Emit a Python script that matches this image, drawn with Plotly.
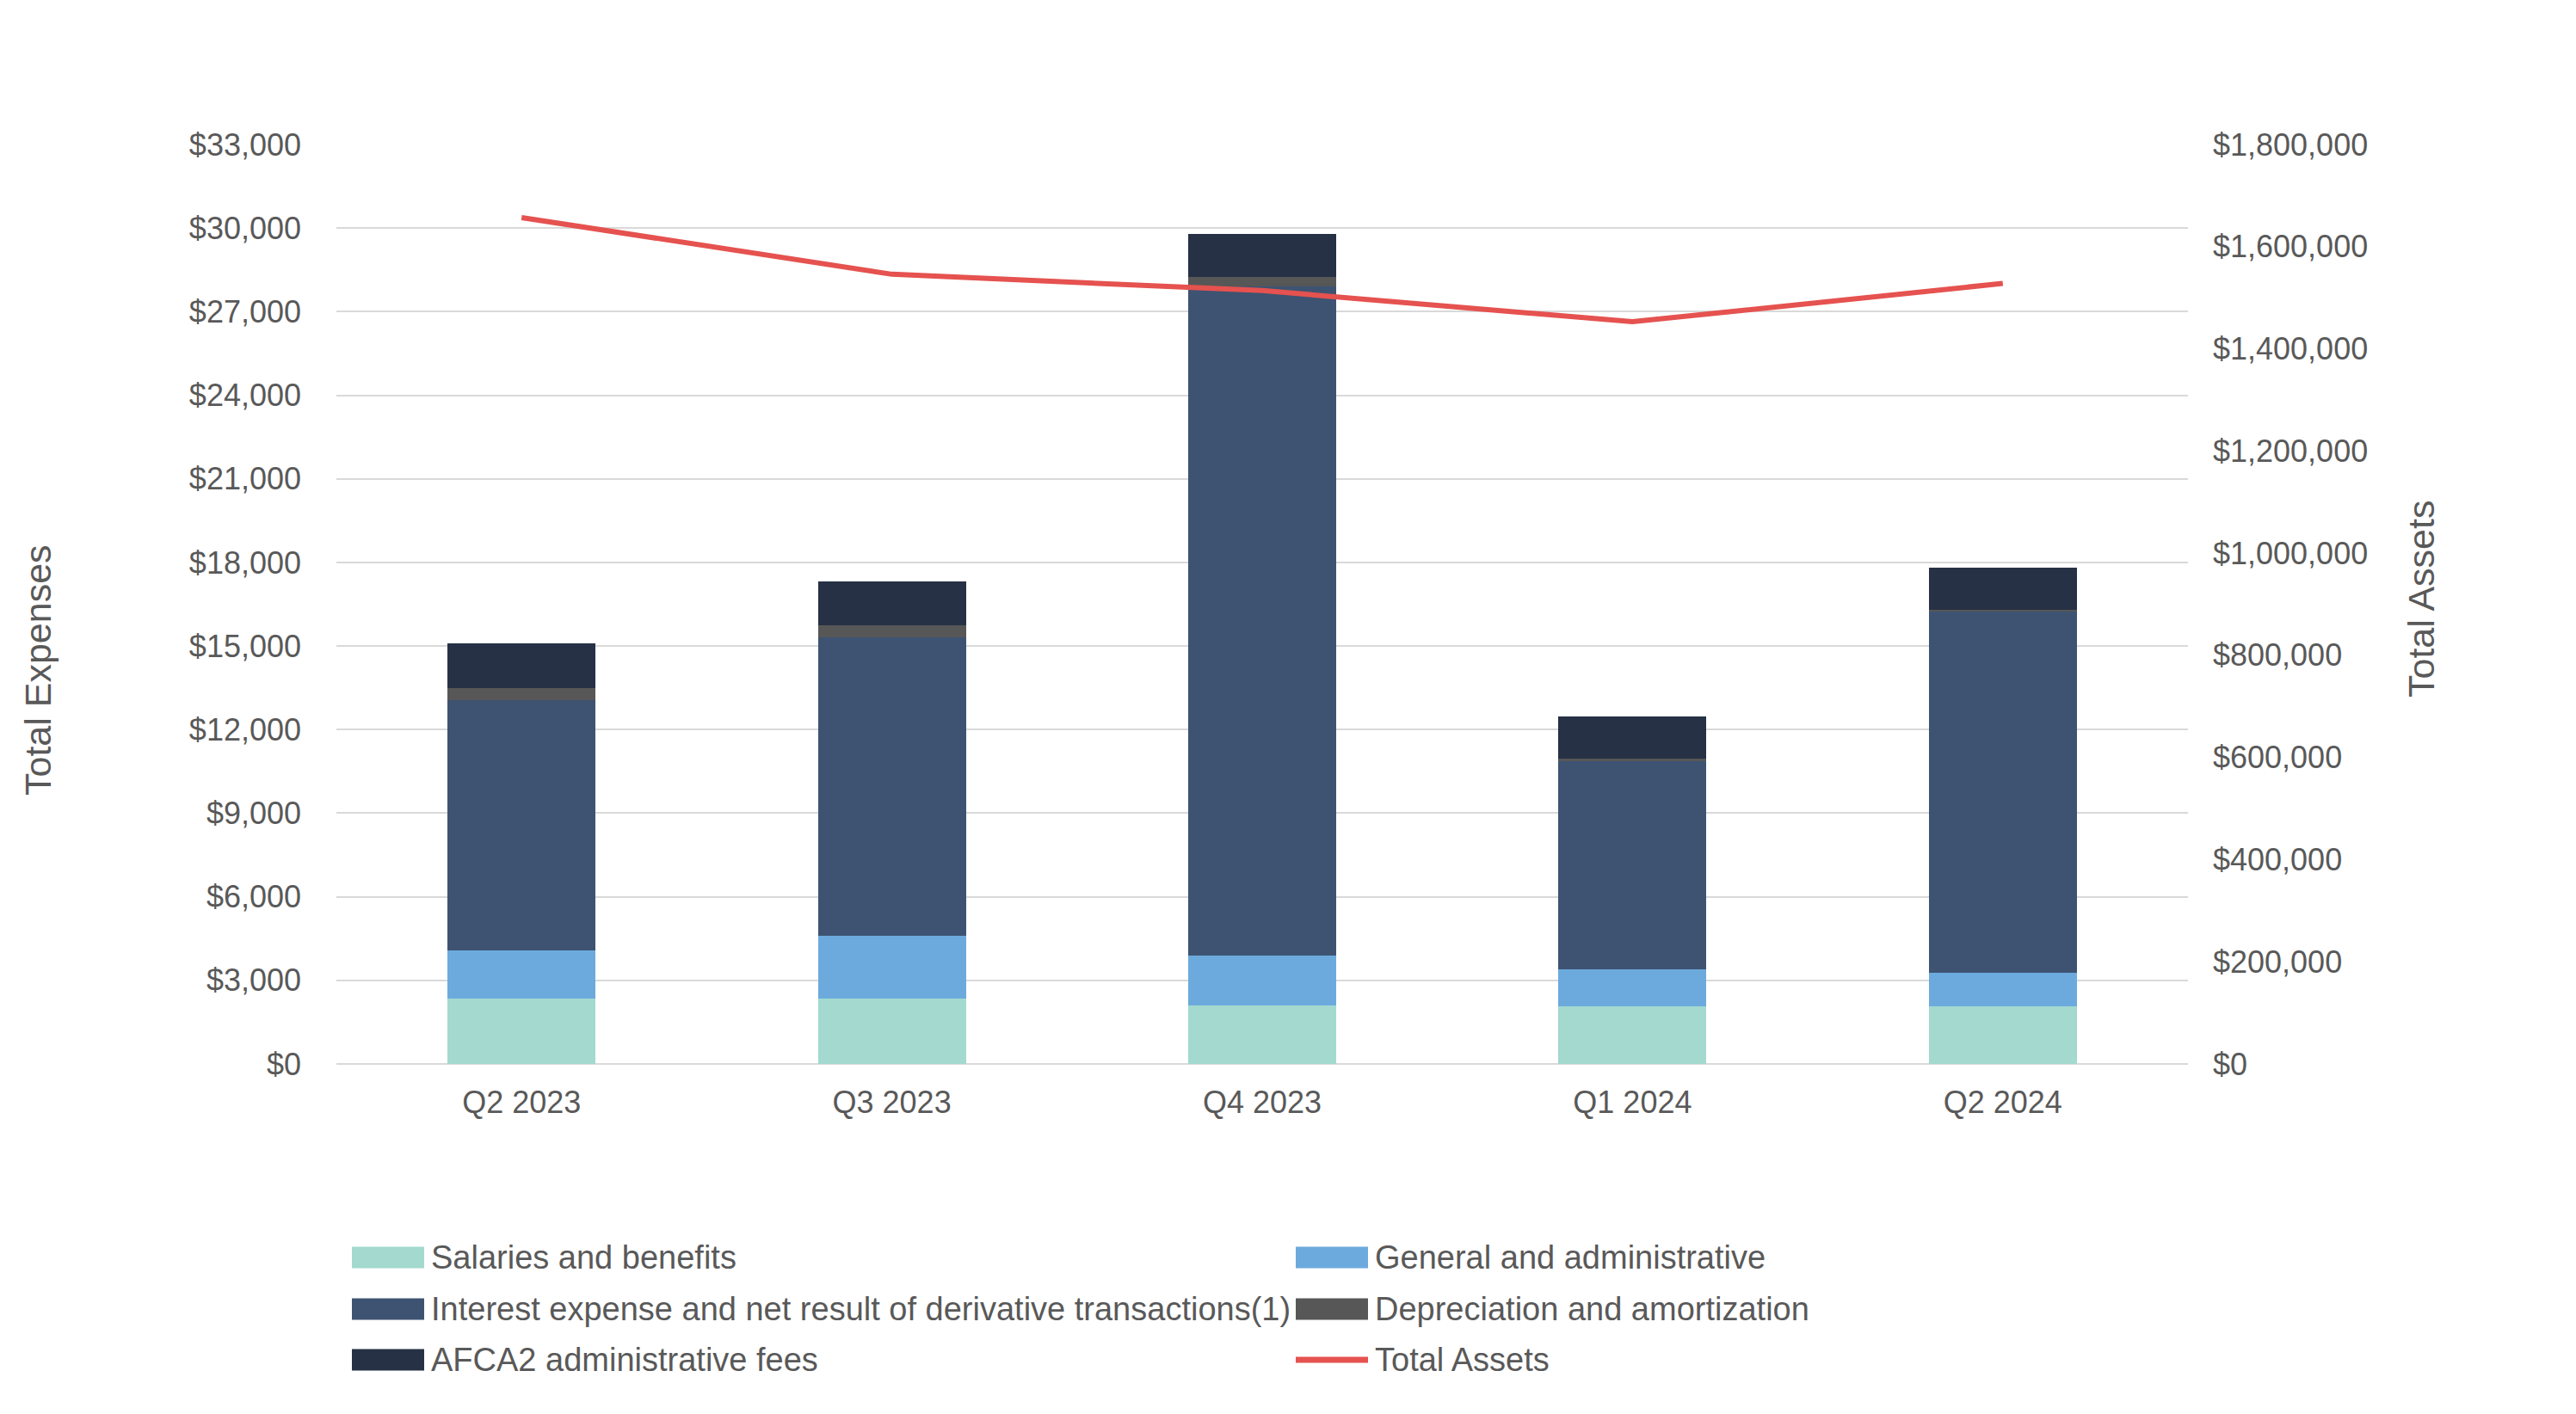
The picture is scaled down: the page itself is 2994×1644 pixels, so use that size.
import plotly.graph_objects as go

quarters = ["Q2 2023", "Q3 2023", "Q4 2023", "Q1 2024", "Q2 2024"]
salaries = [2340, 2340, 2110, 2070, 2070]
general_admin = [1720, 2250, 1780, 1330, 1210]
interest = [8990, 10710, 24020, 7480, 12950]
depreciation = [440, 440, 330, 80, 80]
afca2_fees = [1600, 1575, 1560, 1500, 1500]
total_assets = [1657000, 1546000, 1514000, 1453000, 1528000]

series_names = [
    "Salaries and benefits",
    "General and administrative",
    "Interest expense and net result of derivative transactions(1)",
    "Depreciation and amortization",
    "AFCA2 administrative fees",
]
series_values = [salaries, general_admin, interest, depreciation, afca2_fees]
series_colors = ["#A3D9CF", "#6CAADD", "#3E5372", "#575757", "#263145"]
line_name = "Total Assets"
line_color = "#E5524F"

FONT = "Liberation Sans, Arial, sans-serif"
TXT = "#595959"
W, H = 2994, 1644
L, R, T, B = 391, 451, 168, 407
PW, PH = W - L - R, H - T - B


def px_x(x):
    return (x - L) / PW


def px_y(y):
    return (H - B - y) / PH


fig = go.Figure()
for name, vals, color in zip(series_names, series_values, series_colors):
    fig.add_trace(go.Bar(x=quarters, y=vals, name=name, marker=dict(color=color, line=dict(width=0)),
                         width=0.4, yaxis="y", showlegend=False))
fig.add_trace(go.Scatter(x=quarters, y=total_assets, name=line_name, mode="lines",
                         line=dict(color=line_color, width=6), yaxis="y2", showlegend=False))

# custom legend (2 columns, row-wise order)
entries = [(n, c, "rect") for n, c in zip(series_names, series_colors)] + [(line_name, line_color, "line")]
col_x = [409, 1506]
row_y = [1462, 1522, 1581]
shapes = []
annotations = []
for i, (name, color, kind) in enumerate(entries):
    cx = col_x[i % 2]
    cy = row_y[i // 2]
    if kind == "rect":
        shapes.append(dict(type="rect", xref="paper", yref="paper",
                           x0=px_x(cx), x1=px_x(cx + 84), y0=px_y(cy - 12.5), y1=px_y(cy + 12.5),
                           fillcolor=color, line=dict(width=0)))
    else:
        shapes.append(dict(type="line", xref="paper", yref="paper",
                           x0=px_x(cx), x1=px_x(cx + 84), y0=px_y(cy), y1=px_y(cy),
                           line=dict(color=color, width=7)))
    annotations.append(dict(text=name, xref="paper", yref="paper", x=px_x(cx + 90), y=px_y(cy),
                            xanchor="left", yanchor="middle", showarrow=False,
                            font=dict(size=38, color=TXT, family=FONT)))

annotations.append(dict(text="Total Expenses", xref="paper", yref="paper", x=px_x(44), y=px_y(779),
                        textangle=-90, showarrow=False, xanchor="center", yanchor="middle",
                        font=dict(size=43, color=TXT, family=FONT)))
annotations.append(dict(text="Total Assets", xref="paper", yref="paper", x=px_x(2814), y=px_y(697),
                        textangle=-90, showarrow=False, xanchor="center", yanchor="middle",
                        font=dict(size=43, color=TXT, family=FONT)))

fig.update_layout(
    width=W, height=H,
    barmode="stack",
    paper_bgcolor="white", plot_bgcolor="white",
    margin=dict(l=L, r=R, t=T, b=B, autoexpand=False),
    font=dict(family=FONT, color=TXT, size=36),
    xaxis=dict(showgrid=False, showline=False, zeroline=False, ticks="",
               tickfont=dict(size=36, color=TXT), ticklabelstandoff=20),
    yaxis=dict(range=[0, 33000], dtick=3000, tickformat="$,", showgrid=True, gridcolor="#D9D9D9",
               gridwidth=2, zeroline=True, zerolinecolor="#D9D9D9", zerolinewidth=2, showline=False,
               tickfont=dict(size=36, color=TXT), ticklabelstandoff=40),
    yaxis2=dict(range=[0, 1800000], dtick=200000, tickformat="$,", overlaying="y", side="right",
                showgrid=False, zeroline=False, showline=False,
                tickfont=dict(size=36, color=TXT), ticklabelstandoff=28),
    shapes=shapes,
    annotations=annotations,
    showlegend=False,
)

fig.write_html("out.html")
